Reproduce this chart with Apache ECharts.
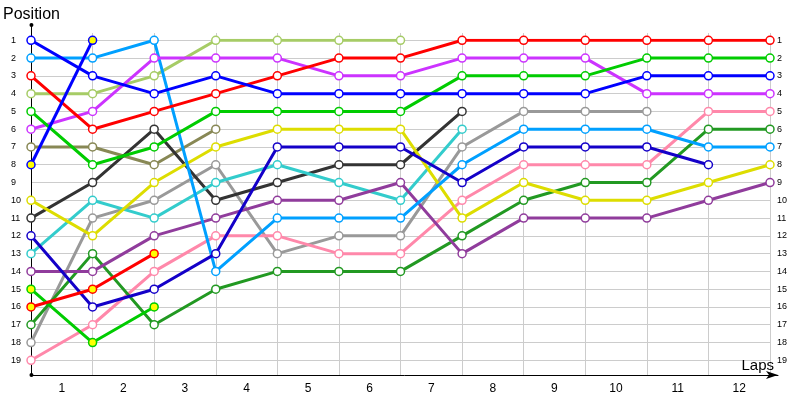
<!DOCTYPE html>
<html>
<head>
<meta charset="utf-8">
<script src="https://cdn.jsdelivr.net/npm/echarts@6/dist/echarts.min.js"></script>
<style>html,body{margin:0;padding:0;background:#fff}#c{width:800px;height:400px}</style>
</head>
<body>
<div id="c"></div>
<script>
// Lap labels (shown between lap boundaries)
const lapLabels = ['1','2','3','4','5','6','7','8','9','10','11','12'];
// Position after each lap boundary (index 0 = start), shorter arrays = retired
const blue      = [1,3,4,3,4,4,4,4,4,4,3,3,3];
const lightBlue = [2,2,1,14,11,11,11,8,6,6,6,7,7];
const red       = [3,6,5,4,3,2,2,1,1,1,1,1,1];
const lightGreen= [4,4,3,1,1,1,1];
const green     = [5,8,7,5,5,5,5,3,3,3,2,2,2];
const violet    = [6,5,2,2,2,3,3,2,2,2,4,4,4];
const olive     = [7,7,8,6];
const bluePit   = [8,1];
const yellow    = [10,12,9,7,6,6,6,11,9,10,10,9,8];
const black     = [11,9,6,10,9,8,8,5];
const darkBlue  = [12,16,15,13,7,7,7,9,7,7,7,8];
const cyan      = [13,10,11,9,8,9,10,6];
const purple    = [14,14,12,11,10,10,9,13,11,11,11,10,9];
const greenPit  = [15,18,16];
const redPit    = [16,15,13];
const darkGreen = [17,13,17,15,14,14,14,12,10,9,9,6,6];
const grey      = [18,11,10,8,13,12,12,7,5,5,5];
const pink      = [19,17,14,12,12,13,13,10,8,8,8,5,5];

const seriesDefs = [
  {d: lightGreen, c:'#A6CC66'},
  {d: olive,      c:'#888855'},
  {d: grey,       c:'#999999'},
  {d: black,      c:'#333333'},
  {d: cyan,       c:'#33CCCC'},
  {d: pink,       c:'#FF88AA'},
  {d: darkGreen,  c:'#229922'},
  {d: purple,     c:'#903C9C'},
  {d: yellow,     c:'#DDDD00'},
  {d: lightBlue,  c:'#00A0FF'},
  {d: darkBlue,   c:'#1400C8'},
  {d: violet,     c:'#CC33FF'},
  {d: green,      c:'#00CC00'},
  {d: red,        c:'#FF0000'},
  {d: blue,       c:'#0000FF'},
  {d: bluePit,    c:'#0000FF', pit:true},
  {d: greenPit,   c:'#00CC00', pit:true},
  {d: redPit,     c:'#FF0000', pit:true}
];

const FONT = 'Liberation Sans';
const chart = echarts.init(document.getElementById('c'), null, {renderer:'canvas'});
chart.setOption({
  animation: false,
  grid: [
    {left: 31, right: 30, top: 40.3, bottom: 39.7},
    {left: 31, right: 30, top: 33, bottom: 25},
    {left: 31, right: 22, top: 25, bottom: 25}
  ],
  xAxis: [
    {gridIndex: 0, type:'value', min:0, max:12, interval:1,
     axisLine:{show:false}, axisTick:{show:false}, axisLabel:{show:false}, splitLine:{show:false}},
    {gridIndex: 1, type:'value', position:'top', min:0, max:12, interval:1,
     axisLine:{show:false}, axisTick:{show:false}, axisLabel:{show:false},
     splitLine:{show:true, lineStyle:{color:'#cccccc', width:1}}},
    {gridIndex: 1, type:'category', position:'bottom', data: lapLabels, boundaryGap:true,
     axisLine:{show:false}, axisTick:{show:false}, splitLine:{show:false},
     axisLabel:{show:true, margin:8, color:'#000', fontFamily:FONT, fontSize:12}},
    {gridIndex: 2, type:'value', min:0, max:1,
     axisLine:{show:true, symbol:['none','arrow'], symbolSize:[6,12], lineStyle:{color:'#000', width:1}},
     axisTick:{show:false}, axisLabel:{show:false}, splitLine:{show:false},
     name:'Laps', nameLocation:'end', nameGap:-4,
     nameTextStyle:{fontFamily:FONT, fontSize:15, color:'#000', align:'right', verticalAlign:'bottom', padding:[0,0,2,0]}}
  ],
  yAxis: [
    {gridIndex: 0, type:'value', inverse:true, min:1, max:19, interval:1, position:'left',
     axisLine:{show:false}, axisTick:{show:false},
     axisLabel:{show:true, margin:20, align:'left', color:'#000', fontFamily:FONT, fontSize:9},
     splitLine:{show:true, lineStyle:{color:'#cccccc', width:1}}},
    {gridIndex: 0, type:'value', inverse:true, min:1, max:19, interval:1, position:'right',
     axisLine:{show:false}, axisTick:{show:false},
     axisLabel:{show:true, margin:7, align:'left', color:'#000', fontFamily:FONT, fontSize:9},
     splitLine:{show:false}},
    {gridIndex: 1, type:'value', min:0, max:1, show:false},
    {gridIndex: 2, type:'value', min:0, max:1,
     axisLine:{show:true, symbol:['circle','circle'], symbolSize:[4,4], lineStyle:{color:'#000', width:1}},
     axisTick:{show:false}, axisLabel:{show:false}, splitLine:{show:false},
     name:'Position', nameLocation:'end', nameGap:2,
     nameTextStyle:{fontFamily:FONT, fontSize:16, color:'#000'}}
  ],
  series: seriesDefs.map(s => ({
    type:'line',
    xAxisIndex:0, yAxisIndex:0,
    data: s.d.map((p,i) => [i,p]),
    symbol:'circle', symbolSize:8, showAllSymbol:true,
    lineStyle:{color:s.c, width:3},
    itemStyle:{color: s.pit ? '#FFFF00' : '#FFFFFF', borderColor:s.c, borderWidth:1.5},
    emphasis:{disabled:true},
    z: s.pit ? 3 : 2
  }))
});
</script>
</body>
</html>
